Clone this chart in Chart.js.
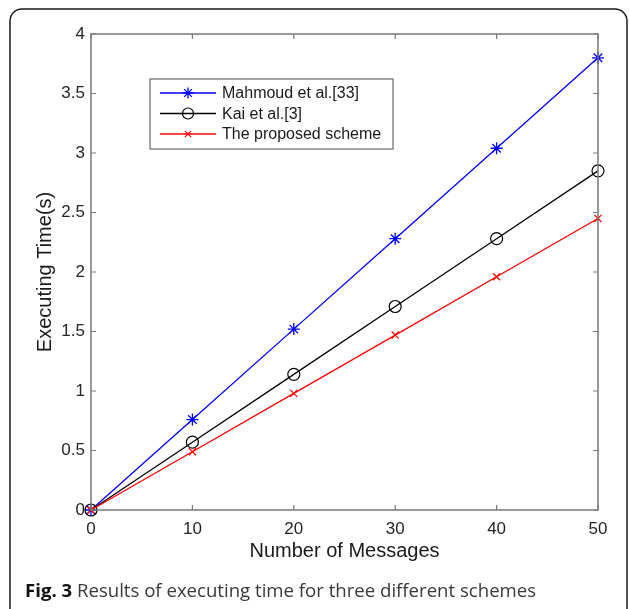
<!DOCTYPE html>
<html>
<head>
<meta charset="utf-8">
<script src="https://cdn.jsdelivr.net/npm/chart.js@4"></script>
<style>
  html, body { margin: 0; padding: 0; background: #fff; }
  #wrap { width: 629px; height: 609px; }
</style>
</head>
<body>
<div id="wrap"><canvas id="execChart" width="629" height="609"></canvas></div>
<script>
// data
const messages = [0, 10, 20, 30, 40, 50];
const mahmoud = [0, 0.76, 1.52, 2.28, 3.04, 3.80];
const kai = [0, 0.57, 1.14, 1.71, 2.28, 2.85];
const proposed = [0, 0.49, 0.98, 1.47, 1.96, 2.45];
const seriesNames = ["Mahmoud et al.[33]", "Kai et al.[3]", "The proposed scheme"];
const xTitle = "Number of Messages";
const yTitle = "Executing Time(s)";
const captionBold = "Fig. 3";
const captionText = " Results of executing time for three different schemes";

const toPoints = (ys) => messages.map((x, i) => ({ x: x, y: ys[i] }));

// frame round the whole figure + caption
const framePlugin = {
  id: "frame",
  afterDraw(chart) {
    const ctx = chart.ctx;
    ctx.save();
    ctx.strokeStyle = "#1a1a1a";
    ctx.lineWidth = 1.5;
    ctx.beginPath();
    ctx.roundRect(10, 9, 617, 612, 12);
    ctx.stroke();

    // caption
    ctx.textBaseline = "middle";
    ctx.fillStyle = "#111";
    ctx.font = "bold 18.6px 'Open Sans'";
    ctx.fillText(captionBold, 25, 592);
    const w = ctx.measureText(captionBold).width;
    ctx.fillStyle = "#3a3a3a";
    ctx.font = "18.6px 'Open Sans'";
    ctx.fillText(captionText, 25 + w, 592);
    ctx.restore();
  }
};

// MATLAB style box with inward ticks on all four sides
const boxPlugin = {
  id: "axisBox",
  afterDatasetsDraw(chart) {
    const { ctx, chartArea: a, scales } = chart;
    ctx.save();
    ctx.strokeStyle = "#7a7a7a";
    ctx.lineWidth = 1.5;
    ctx.strokeRect(a.left, a.top, a.right - a.left, a.bottom - a.top);
    ctx.lineWidth = 1.2;
    ctx.beginPath();
    scales.x.ticks.forEach(t => {
      const px = scales.x.getPixelForValue(t.value);
      ctx.moveTo(px, a.bottom); ctx.lineTo(px, a.bottom - 5);
      ctx.moveTo(px, a.top); ctx.lineTo(px, a.top + 5);
    });
    scales.y.ticks.forEach(t => {
      const py = scales.y.getPixelForValue(t.value);
      ctx.moveTo(a.left, py); ctx.lineTo(a.left + 5, py);
      ctx.moveTo(a.right, py); ctx.lineTo(a.right - 5, py);
    });
    ctx.stroke();
    ctx.restore();
  }
};

// legend box: line + marker like MATLAB
const legendPlugin = {
  id: "matLegend",
  afterDraw(chart) {
    const ctx = chart.ctx;
    const bx = 150, by = 79, bw = 243, bh = 70;
    ctx.save();
    ctx.fillStyle = "#fff";
    ctx.fillRect(bx, by, bw, bh);
    ctx.strokeStyle = "#6a6a6a";
    ctx.lineWidth = 1.2;
    ctx.strokeRect(bx, by, bw, bh);
    const rows = [93, 113.5, 134];
    chart.data.datasets.forEach((ds, i) => {
      const y = rows[i];
      ctx.strokeStyle = ds.borderColor;
      ctx.lineWidth = 1.5;
      ctx.beginPath();
      ctx.moveTo(160, y); ctx.lineTo(216, y);
      ctx.stroke();
      ctx.fillStyle = ds.backgroundColor;
      ctx.lineWidth = ds.pointBorderWidth;
      Chart.helpers.drawPoint(ctx, {
        pointStyle: ds.pointStyle,
        radius: ds.pointRadius - 0.5,
        rotation: 0,
        borderWidth: ds.pointBorderWidth
      }, 188, y);
      ctx.fillStyle = "#1a1a1a";
      ctx.font = "16px 'Liberation Sans'";
      ctx.textBaseline = "middle";
      ctx.fillText(ds.label, 222, y + 1);
    });
    ctx.restore();
  }
};

new Chart(document.getElementById("execChart"), {
  type: "line",
  data: {
    datasets: [
      {
        label: seriesNames[0],
        data: toPoints(mahmoud),
        borderColor: "#0000ff",
        backgroundColor: "#0000ff",
        pointStyle: "star",
        pointRadius: 6,
        pointBorderWidth: 1.3,
        borderWidth: 1.3,
        order: 3
      },
      {
        label: seriesNames[1],
        data: toPoints(kai),
        borderColor: "#000000",
        backgroundColor: "rgba(0,0,0,0)",
        pointStyle: "circle",
        pointRadius: 6,
        pointBorderWidth: 1.2,
        borderWidth: 1.3,
        order: 2
      },
      {
        label: seriesNames[2],
        data: toPoints(proposed),
        borderColor: "#ff0000",
        backgroundColor: "#ff0000",
        pointStyle: "crossRot",
        pointRadius: 5,
        pointBorderWidth: 1.2,
        borderWidth: 1.3,
        order: 1
      }
    ]
  },
  options: {
    responsive: false,
    animation: false,
    clip: false,
    layout: { padding: { top: 34, right: 31, left: 0, bottom: 0 } },
    plugins: {
      legend: { display: false },
      tooltip: { enabled: false }
    },
    elements: { line: { tension: 0, fill: false } },
    scales: {
      x: {
        type: "linear",
        min: 0,
        max: 50,
        afterFit(scale) { scale.height = 99; },
        grid: { display: false, drawTicks: false },
        border: { display: false },
        ticks: {
          stepSize: 10,
          padding: 9,
          color: "#262626",
          font: { family: "'Liberation Sans'", size: 17 },
          callback: v => String(v)
        },
        title: {
          display: true,
          text: xTitle,
          color: "#1a1a1a",
          font: { family: "'Liberation Sans'", size: 20 },
          padding: { top: 0, bottom: 46 }
        }
      },
      y: {
        type: "linear",
        min: 0,
        max: 4,
        afterFit(scale) { scale.width = 91; },
        grid: { display: false, drawTicks: false },
        border: { display: false },
        ticks: {
          stepSize: 0.5,
          padding: 6,
          color: "#262626",
          font: { family: "'Liberation Sans'", size: 17 },
          callback: v => String(v)
        },
        title: {
          display: true,
          text: yTitle,
          color: "#1a1a1a",
          font: { family: "'Liberation Sans'", size: 20 },
          padding: { top: 33, bottom: 0 }
        }
      }
    }
  },
  plugins: [boxPlugin, legendPlugin, framePlugin]
});
</script>
</body>
</html>
